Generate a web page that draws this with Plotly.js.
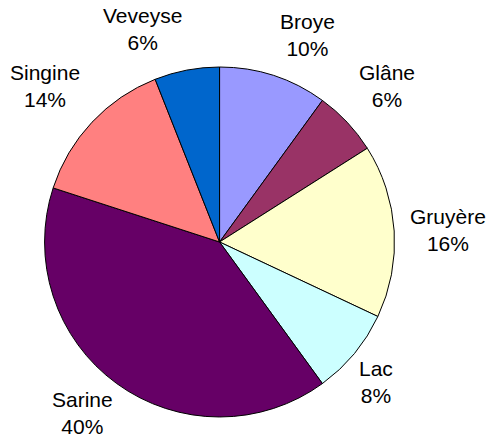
<!DOCTYPE html>
<html>
<head>
<meta charset="utf-8">
<script src="https://cdn.plot.ly/plotly-3.0.1.min.js"></script>
<style>html,body{margin:0;padding:0;background:#fff;}#chart{width:489px;height:438px;}</style>
</head>
<body>
<div id="chart"></div>
<script>
const districts = ["Broye", "Glâne", "Gruyère", "Lac", "Sarine", "Singine", "Veveyse"];
const shares = [10, 6, 16, 8, 40, 14, 6];
const colors = ["#9999FF", "#993366", "#FFFFCC", "#CCFFFF", "#660066", "#FF8080", "#0066CC"];

const W = 489, H = 438;
const dom = {x: [0.091, 0.807], y: [0.048, 0.847]};
// pie geometry in pixels (derived from the domain)
const cxPx = (dom.x[0] + dom.x[1]) / 2 * W;
const cyPx = (1 - (dom.y[0] + dom.y[1]) / 2) * H;
const Rpx = Math.min((dom.x[1] - dom.x[0]) * W, (dom.y[1] - dom.y[0]) * H) / 2;

const total = shares.reduce((a, b) => a + b, 0);
let cum = 0;
const annotations = districts.map((name, i) => {
  const mid = (cum + shares[i] / 2) / total * 2 * Math.PI;
  cum += shares[i];
  const s = Math.sin(mid), c = Math.cos(mid);
  const ya = c > 0.5 ? "bottom" : (c < -0.5 ? "top" : "middle");
  const gap = ya === "top" ? 3 : 14;
  const px = cxPx + (Rpx + gap) * s;
  const py = cyPx - (Rpx + gap) * c;
  const pct = Math.round(shares[i] / total * 100) + "%";
  return {
    x: px / W, y: 1 - py / H, xref: "paper", yref: "paper",
    text: name + "<br>" + pct, showarrow: false,
    xanchor: s > 0.1 ? "left" : (s < -0.1 ? "right" : "center"),
    yanchor: ya,
    align: "center",
    font: {family: "Liberation Sans, Arial, sans-serif", size: 21, color: "#000"}
  };
});

Plotly.newPlot("chart", [{
  type: "pie",
  labels: districts,
  values: shares,
  sort: false,
  direction: "clockwise",
  rotation: 0,
  marker: {colors: colors, line: {color: "#000", width: 1}},
  textinfo: "none",
  domain: dom,
  hoverinfo: "none",
  showlegend: false
}], {
  width: W, height: H,
  margin: {l: 0, r: 0, t: 0, b: 0},
  paper_bgcolor: "#fff",
  showlegend: false,
  annotations: annotations
}, {displayModeBar: false, staticPlot: true});
</script>
</body>
</html>
